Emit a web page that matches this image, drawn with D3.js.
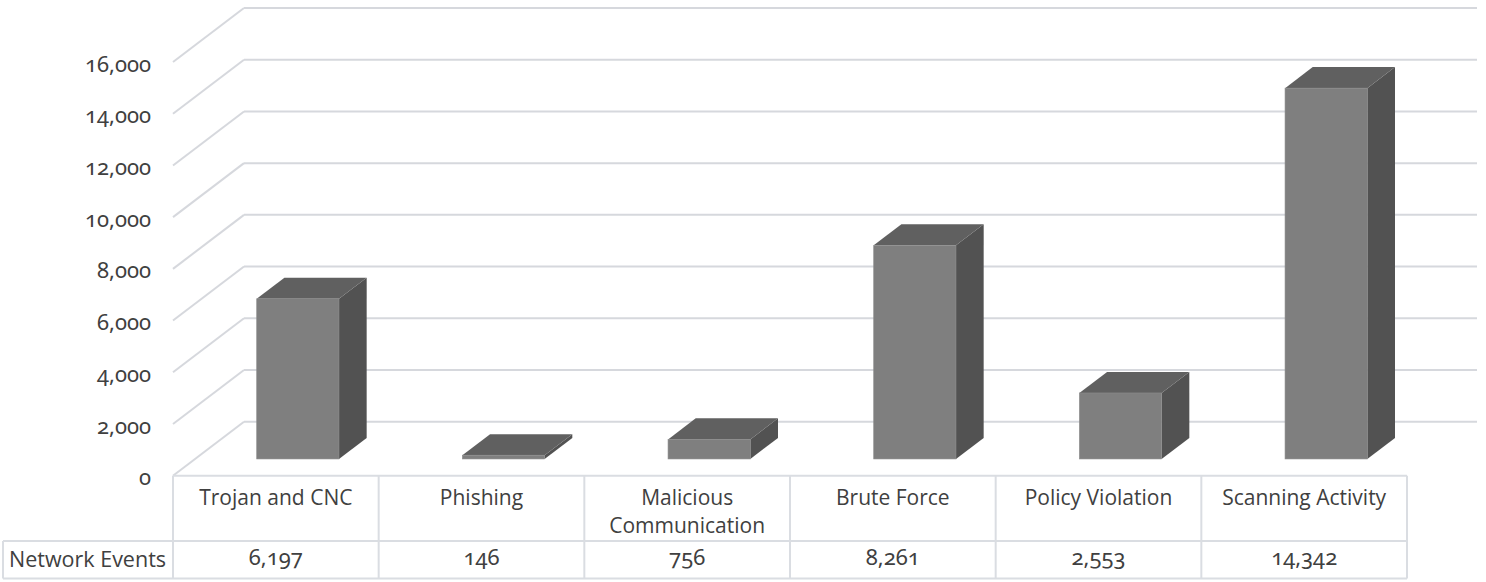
<!DOCTYPE html>
<html>
<head>
<meta charset="utf-8">
<script src="https://cdn.jsdelivr.net/npm/d3@7"></script>
<style>
  html, body { margin: 0; padding: 0; background: #fff; }
  svg { display: block; }
  .num { font-family: "Noto Sans", sans-serif; font-variant-numeric: oldstyle-nums; font-feature-settings: "onum" 1; }
  .lbl { font-family: "Open Sans", sans-serif; }
</style>
</head>
<body>
<div id="chart"></div>
<script>
// Data
const categories = ["Trojan and CNC", "Phishing", "Malicious Communication", "Brute Force", "Policy Violation", "Scanning Activity"];
const seriesName = "Network Events";
const values = [6197, 146, 756, 8261, 2553, 14342];
const yTicks = [0, 2000, 4000, 6000, 8000, 10000, 12000, 14000, 16000];

/*******************************/
/*    Declare the constants    */
/*******************************/
const width = 1486;
const height = 582;
const plotLeft = 173;
const plotRight = 1407;
const front0 = 475.7;
const front16k = 62;
const depthX = 71;   // floor depth offset
const depthY = 54;
const barFront = 0.31;  // fraction of depth where bar begins
const barBack = 0.70;
const textColor = "#404040";
const gridColor = "#d6d8dd";
const tableColor = "#dadde2";

const svg = d3.select("#chart")
  .append("svg")
    .attr("width", width)
    .attr("height", height);

/****************************/
/*    Declare the scales    */
/****************************/
const xScale = d3.scaleBand()
  .domain(categories)
  .range([plotLeft, plotRight]);

const yScale = d3.scaleLinear()
  .domain([0, 16000])
  .range([front0, front16k]);

const fmt = d3.format(",");

/*******************************/
/*    Walls and gridlines      */
/*******************************/
const grid = svg.append("g").attr("class", "grid");
grid.selectAll(".diag")
  .data(yTicks)
  .join("line")
    .attr("x1", plotLeft)
    .attr("y1", d => yScale(d))
    .attr("x2", plotLeft + depthX)
    .attr("y2", d => yScale(d) - depthY)
    .attr("stroke", gridColor)
    .attr("stroke-width", 2);

grid.selectAll(".back")
  .data(yTicks)
  .join("line")
    .attr("x1", plotLeft + depthX)
    .attr("y1", d => yScale(d) - depthY)
    .attr("x2", plotRight + depthX - 1)
    .attr("y2", d => yScale(d) - depthY)
    .attr("stroke", gridColor)
    .attr("stroke-width", 2);

// y axis labels
const leftAxis = d3.axisLeft(yScale)
  .tickValues(yTicks)
  .tickSize(0)
  .tickPadding(0)
  .tickFormat(fmt);
const axisG = svg.append("g")
  .attr("transform", `translate(151, 2)`)
  .call(leftAxis);
axisG.select(".domain").remove();
axisG.selectAll("text")
  .attr("class", "num")
  .attr("fill", textColor)
  .style("font-size", "22px");

/********************************/
/*    Append the 3D columns     */
/********************************/
const barW = xScale.bandwidth() * 0.4;
const fdx = depthX * barFront, fdy = depthY * barFront;
const bdx = depthX * barBack, bdy = depthY * barBack;

const bars = svg.append("g")
  .selectAll("g")
  .data(categories.map((c, i) => ({cat: c, value: values[i]})))
  .join("g");

bars.each(function(d) {
  const g = d3.select(this);
  const cx = xScale(d.cat) + xScale.bandwidth() / 2 + fdx;
  const x0 = cx - barW / 2, x1 = cx + barW / 2;
  const yb = yScale(0) - fdy;
  const yt = yScale(d.value) - fdy;
  const ddx = bdx - fdx, ddy = bdy - fdy;
  // side face
  g.append("path")
    .attr("d", `M${x1},${yt}L${x1 + ddx},${yt - ddy}L${x1 + ddx},${yb - ddy}L${x1},${yb}Z`)
    .attr("fill", "#525252");
  // top face
  g.append("path")
    .attr("d", `M${x0},${yt}L${x0 + ddx},${yt - ddy}L${x1 + ddx},${yt - ddy}L${x1},${yt}Z`)
    .attr("fill", "#606060");
  // front face
  g.append("rect")
    .attr("x", x0)
    .attr("y", yt)
    .attr("width", barW)
    .attr("height", yb - yt)
    .attr("fill", "#7f7f7f")
    .attr("stroke", "#8c8c8c")
    .attr("stroke-width", 0.6);
});

/*******************************/
/*        Data table           */
/*******************************/
const rowTop = front0;
const rowMid = 541;
const rowBot = 578.5;
const tableLeft = 3;
const table = svg.append("g").attr("class", "table");

table.append("line")
  .attr("x1", plotLeft).attr("x2", plotRight)
  .attr("y1", rowTop).attr("y2", rowTop);
table.append("line")
  .attr("x1", tableLeft).attr("x2", plotRight)
  .attr("y1", rowMid).attr("y2", rowMid);
table.append("line")
  .attr("x1", tableLeft).attr("x2", plotRight)
  .attr("y1", rowBot).attr("y2", rowBot);
table.append("line")
  .attr("x1", tableLeft).attr("x2", tableLeft)
  .attr("y1", rowMid).attr("y2", rowBot);
table.selectAll(".vline")
  .data(categories.concat(["end"]))
  .join("line")
    .attr("x1", (d, i) => plotLeft + i * xScale.bandwidth())
    .attr("x2", (d, i) => plotLeft + i * xScale.bandwidth())
    .attr("y1", rowTop)
    .attr("y2", rowBot);
table.selectAll("line")
  .attr("stroke", tableColor)
  .attr("stroke-width", 2);

// category headers, wrapped to the column width
const headers = table.selectAll(".hdr")
  .data(categories)
  .join("text")
    .attr("class", "lbl hdr")
    .attr("text-anchor", "middle")
    .attr("fill", textColor)
    .style("font-size", "21px");

headers.each(function(d) {
  const t = d3.select(this);
  const cx = xScale(d) + xScale.bandwidth() / 2;
  const words = d.split(" ");
  let lines = [], line = [];
  words.forEach(w => {
    line.push(w);
    t.text(line.join(" "));
    if (this.getComputedTextLength() > xScale.bandwidth() - 14 && line.length > 1) {
      line.pop();
      lines.push(line.join(" "));
      line = [w];
    }
  });
  lines.push(line.join(" "));
  t.text(null);
  lines.forEach((l, i) => {
    t.append("tspan")
      .attr("x", cx)
      .attr("y", 505 + i * 28)
      .text(l);
  });
});

table.append("text")
  .attr("class", "lbl")
  .attr("x", 9)
  .attr("y", 567)
  .attr("fill", textColor)
  .style("font-size", "21.5px")
  .text(seriesName);

table.selectAll(".val")
  .data(values)
  .join("text")
    .attr("class", "num val")
    .attr("x", (d, i) => xScale(categories[i]) + xScale.bandwidth() / 2)
    .attr("y", 565)
    .attr("text-anchor", "middle")
    .attr("fill", textColor)
    .style("font-size", "22px")
    .text(d => fmt(d));
</script>
</body>
</html>
